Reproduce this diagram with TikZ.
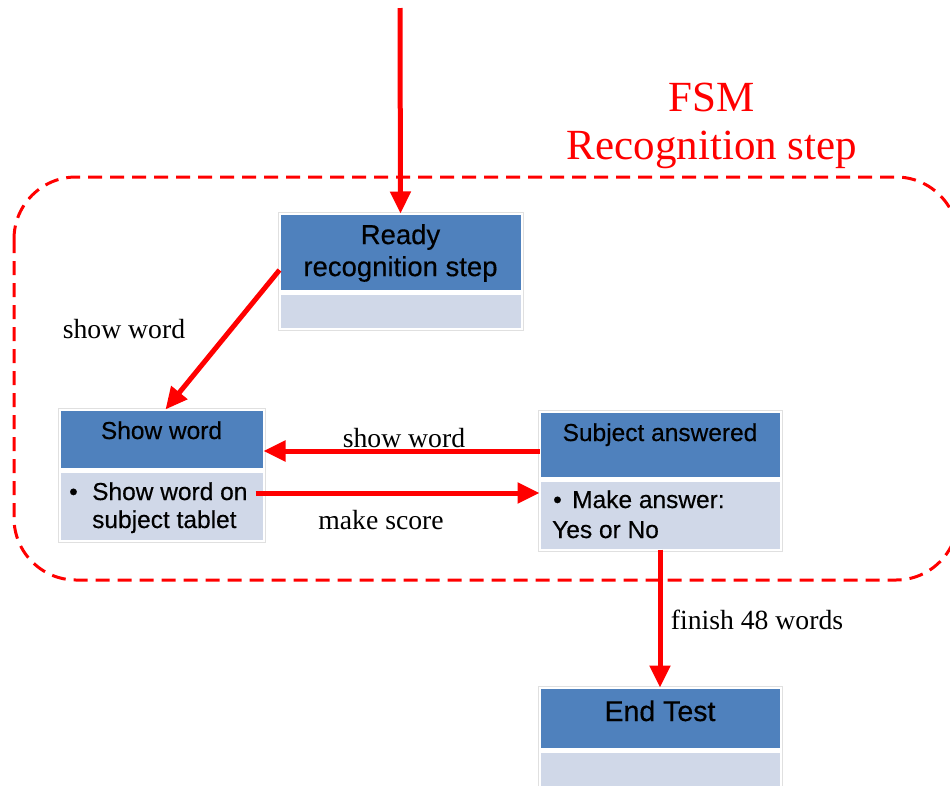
\documentclass[tikz,border=0pt]{standalone}
\usepackage{fontspec}
\setmainfont{Liberation Serif}
\newfontfamily\arialf[FakeBold=0.4]{Liberation Sans}
\usetikzlibrary{arrows.meta,calc}
\definecolor{hdrblue}{HTML}{4F81BD}
\definecolor{lowblue}{HTML}{D0D8E8}
\definecolor{fsmred}{HTML}{FF0000}
\begin{document}
\begin{tikzpicture}[x=1pt,y=1pt,
  hdr/.style={fill=hdrblue, draw=white, line width=1pt, inner sep=0pt},
  low/.style={fill=lowblue, draw=white, line width=1pt, inner sep=0pt},
  frame/.style={draw=black!12, line width=0.8pt, fill=none},
  boxtext/.style={font=\arialf\fontsize{24.5}{31}\selectfont, text=black, inner sep=0pt},
  bigtext/.style={font=\arialf\fontsize{27.5}{32}\selectfont, text=black, inner sep=0pt},
  lbl/.style={font=\fontsize{27.7}{30}\selectfont, text=black, inner sep=0pt},
  ttl/.style={font=\fontsize{43}{50}\selectfont, text=fsmred, inner sep=0pt},
  conn/.style={draw=fsmred, line width=5pt, -{Triangle[length=22pt,width=20pt]}},
  region/.style={draw=fsmred, line width=3pt, dash pattern=on 14pt off 8pt, rounded corners=62pt}
]
\useasboundingbox (0,0) rectangle (950,-785);
\clip (0,0) rectangle (950,-785);
\fill[white] (0,0) rectangle (950,-785);

% region
\draw[region] (14,-177) rectangle (958,-580);

% titles
\node[ttl] (t1) at (712,-97) {FSM};
\node[ttl] (t2) at (712,-150) {Recognition step};

% Ready recognition step
\draw[frame] (278,-212) rectangle (523,-330);
\node[hdr, minimum width=241, minimum height=76] (rh) at (400.5,-252) {};
\node[low, minimum width=241, minimum height=34] (rl) at (400.5,-311) {};
\node[bigtext, align=center] (rt) at (400.5,-253) {Ready\\recognition step};

% Show word
\draw[frame] (58,-408) rectangle (265,-542);
\node[hdr, minimum width=203, minimum height=58] (swh) at (161.5,-439) {};
\node[low, minimum width=203, minimum height=68] (swl) at (161.5,-506) {};
\node[boxtext, anchor=base] (swt) at (161.5,-439) {Show word};
\node[boxtext, anchor=base west] (swbul) at (69,-500) {•};
\node[boxtext, anchor=base west] (swb) at (92,-500) {Show word on};
\node[boxtext, anchor=base west] (swb2) at (92,-528) {subject tablet};

% Subject answered
\draw[frame] (538,-410) rectangle (782,-551);
\node[hdr, minimum width=240, minimum height=65] (sh) at (660,-444.5) {};
\node[low, minimum width=240, minimum height=68] (sl) at (660,-515) {};
\node[boxtext, anchor=base] (sht) at (660,-441) {Subject answered};
\node[boxtext, anchor=base west] (slbul) at (553,-508) {•};
\node[boxtext, anchor=base west] (slb) at (572,-508) {Make answer:};
\node[boxtext, anchor=base west] (slb2) at (552,-538) {Yes or No};

% End Test
\draw[frame] (538,-686) rectangle (782,-800);
\node[hdr, minimum width=240, minimum height=60] (eh) at (660,-718) {};
\node[low, minimum width=240, minimum height=40] (el) at (660,-772) {};
\node[bigtext, anchor=base, font=\arialf\fontsize{28.5}{32}\selectfont] (et) at (660,-721) {End Test};

% connectors
\coordinate (start) at (400,-8);
\draw[conn] (start) -- (rh.north);
\draw[conn] ([yshift=-18pt]rh.west) -- ([xshift=4pt]swh.north);
\draw[conn] ([yshift=-6.5pt]sh.west) -- ([yshift=-12pt]swh.east);
\draw[conn] ([xshift=-8pt,yshift=13pt]swl.east) -- ([yshift=22pt]sl.west);
\draw[conn] (sl.south) -- (eh.north);

% labels
\node[lbl] (l1) at (124,-329) {show word};
\node[lbl] (l2) at (404,-438) {show word};
\node[lbl] (l3) at (381,-520) {make score};
\node[lbl] (l4) at (757,-620) {finish 48 words};
\end{tikzpicture}
\end{document}
